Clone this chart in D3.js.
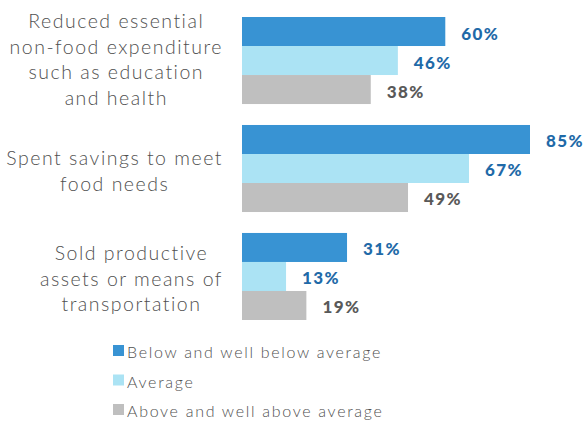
<!DOCTYPE html>
<html>
<head>
<meta charset="utf-8">
<script src="https://cdn.jsdelivr.net/npm/d3@7"></script>
<style>
  html, body { margin: 0; padding: 0; background: #fff; }
  svg { display: block; }
</style>
</head>
<body>
<svg id="chart" width="586" height="421"></svg>
<script>
// Coping strategies by wealth group (% of households)
const categories = [
  ["Reduced essential", "non-food expenditure", "such as education", "and health"],
  ["Spent savings to meet", "food needs"],
  ["Sold productive", "assets or means of", "transportation"]
];
const seriesNames = ["Below and well below average", "Average", "Above and well above average"];
const belowValues = [60, 85, 31];
const averageValues = [46, 67, 13];
const aboveValues = [38, 49, 19];

const seriesValues = [belowValues, averageValues, aboveValues];
const barColors = ["#3893D3", "#ABE3F4", "#BFBFBF"];
const labelColors = ["#1F6AA8", "#1F6AA8", "#595959"];
const textGray = "#595959";

const svg = d3.select("#chart");
const fontFamily = "Lato, 'Open Sans', sans-serif";

const x = d3.scaleLinear().domain([0, 85]).range([242, 530]);
const y = d3.scaleBand().domain(d3.range(categories.length)).range([17, 320]).paddingInner(0.194).paddingOuter(0);
const ySub = d3.scaleBand().domain(d3.range(seriesNames.length)).range([0, y.bandwidth()]);

// Bars and value labels
categories.forEach((cat, i) => {
  const g = svg.append("g").attr("transform", `translate(0,${y(i)})`);
  seriesValues.forEach((vals, s) => {
    const v = vals[i];
    g.append("rect")
      .attr("x", x(0))
      .attr("y", ySub(s))
      .attr("width", x(v) - x(0))
      .attr("height", ySub.bandwidth())
      .attr("fill", barColors[s]);
    g.append("text")
      .attr("x", x(v) + 16)
      .attr("y", ySub(s) + ySub.bandwidth() / 2 + 8)
      .attr("fill", labelColors[s])
      .attr("font-family", fontFamily)
      .attr("font-weight", 900)
      .attr("font-size", 17)
      .attr("letter-spacing", 1.4)
      .text(v + "%");
  });
});

// Category labels: each block sits against the axis, lines centred within the block
const labelRight = 223;
const lineHeight = 25.5;
const firstBaselines = [28, 165, 260];
categories.forEach((lines, i) => {
  const t = svg.append("text")
    .attr("font-family", fontFamily)
    .attr("font-size", 19.5)
    .attr("font-weight", 300)
    .attr("letter-spacing", 1.5)
    .attr("fill", "#505050")
    .attr("text-anchor", "middle");
  const spans = lines.map((ln, k) =>
    t.append("tspan").attr("y", firstBaselines[i] + k * lineHeight).text(ln)
  );
  const maxW = d3.max(spans, sp => sp.node().getComputedTextLength());
  spans.forEach(sp => sp.attr("x", labelRight - maxW / 2));
});

// Legend
const legend = svg.append("g");
seriesNames.forEach((name, s) => {
  const yy = 358 + s * 29.5;
  legend.append("rect")
    .attr("x", 113).attr("y", yy - 13)
    .attr("width", 11).attr("height", 11)
    .attr("fill", barColors[s]);
  legend.append("text")
    .attr("x", 127).attr("y", yy)
    .attr("font-family", fontFamily)
    .attr("font-size", 16)
    .attr("font-weight", 300)
    .attr("letter-spacing", 1.7)
    .attr("fill", "#505050")
    .text(name);
});
</script>
</body>
</html>
